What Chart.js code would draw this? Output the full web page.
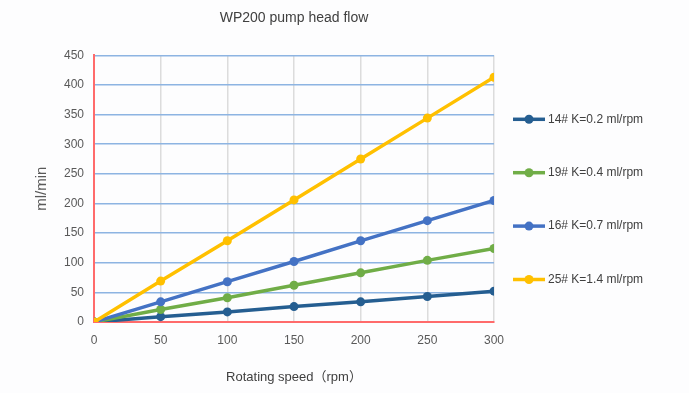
<!DOCTYPE html>
<html>
<head>
<meta charset="utf-8">
<script src="https://cdn.jsdelivr.net/npm/chart.js@4"></script>
<style>
  html, body { margin: 0; padding: 0; background: #fdfdfe; }
  #wrap { width: 689px; height: 393px; }
</style>
</head>
<body>
<div id="wrap"><canvas id="flowChart" width="689" height="393"></canvas></div>
<script>
// values
const speeds = [0, 50, 100, 150, 200, 250, 300];
const seriesNames = ['14# K=0.2 ml/rpm', '19# K=0.4 ml/rpm', '16# K=0.7 ml/rpm', '25# K=1.4 ml/rpm'];
const flow14 = [0, 9, 17, 26, 34, 43, 52];
const flow19 = [0, 21, 41, 62, 83, 104, 124];
const flow16 = [0, 34, 68, 102, 137, 171, 205];
const flow25 = [0, 69, 137, 206, 275, 344, 413];
const seriesColors = ['#255e91', '#70ad47', '#4472c4', '#ffc000'];

const fontFamily = '"Liberation Sans", Arial, "Noto Sans CJK SC", sans-serif';
const allFlows = [flow14, flow19, flow16, flow25];

// x/y pairs for the linear x axis
function toPoints(values) {
    return speeds.map((s, i) => ({ x: s, y: values[i] }));
}

const datasets = allFlows.map((values, i) => ({
    label: seriesNames[i],
    data: toPoints(values),
    borderColor: seriesColors[i],
    backgroundColor: seriesColors[i],
    borderWidth: 3.5,
    pointRadius: 4.5,
    pointHoverRadius: 4.5,
    pointBorderWidth: 0,
    tension: 0,
    order: allFlows.length - 1 - i
}));

// legend drawn by hand: line + dot, stacked down the right side
const sideLegend = {
    id: 'sideLegend',
    afterDraw(chart) {
        const ctx = chart.ctx;
        const area = chart.chartArea;
        const x0 = area.right + 19;
        ctx.save();
        chart.data.datasets.forEach((ds, i) => {
            const y = area.top + 64 + i * 53.4;
            ctx.strokeStyle = ds.borderColor;
            ctx.lineWidth = 3.5;
            ctx.beginPath();
            ctx.moveTo(x0, y);
            ctx.lineTo(x0 + 32, y);
            ctx.stroke();
            ctx.fillStyle = ds.borderColor;
            ctx.beginPath();
            ctx.arc(x0 + 16, y, 4.5, 0, Math.PI * 2);
            ctx.fill();
            ctx.fillStyle = '#404040';
            ctx.font = '12px ' + fontFamily;
            ctx.textBaseline = 'middle';
            ctx.textAlign = 'left';
            ctx.fillText(ds.label, x0 + 35, y);
        });
        ctx.restore();
    }
};

const ctx = document.getElementById('flowChart').getContext('2d');
const flowChart = new Chart(ctx, {
    type: 'line',
    data: { datasets: datasets },
    options: {
        responsive: false,
        animation: false,
        layout: { padding: { left: 0, right: 195, top: 0, bottom: 0 } },
        plugins: {
            legend: { display: false },
            tooltip: { enabled: false },
            title: {
                display: true,
                text: 'WP200 pump head flow',
                fullSize: false,
                color: '#404040',
                font: { family: fontFamily, size: 14, weight: 'normal' },
                padding: { top: 10, bottom: 28.5 }
            }
        },
        scales: {
            x: {
                type: 'linear',
                min: 0,
                max: 300,
                ticks: {
                    stepSize: 50,
                    color: '#595959',
                    padding: 11,
                    maxRotation: 0,
                    font: { family: fontFamily, size: 12 }
                },
                grid: { color: '#dcdcdc', lineWidth: 1.5, drawTicks: false },
                border: { color: '#ff6b6b', width: 2 },
                title: {
                    display: true,
                    text: 'Rotating speed（rpm）',
                    color: '#404040',
                    font: { family: fontFamily, size: 13 },
                    padding: { top: 0, bottom: 8 }
                },
                afterFit(scale) { scale.height = 71; }
            },
            y: {
                min: 0,
                max: 450,
                ticks: {
                    stepSize: 50,
                    color: '#595959',
                    padding: 10,
                    font: { family: fontFamily, size: 12 }
                },
                grid: { color: '#8db4e2', lineWidth: 1.5, drawTicks: false },
                border: { color: '#ff6b6b', width: 2 },
                title: {
                    display: true,
                    text: 'ml/min',
                    color: '#595959',
                    font: { family: fontFamily, size: 15 },
                    padding: { top: 33, bottom: 0 }
                },
                afterFit(scale) { scale.width = 94; }
            }
        }
    },
    plugins: [sideLegend]
});
</script>
</body>
</html>
